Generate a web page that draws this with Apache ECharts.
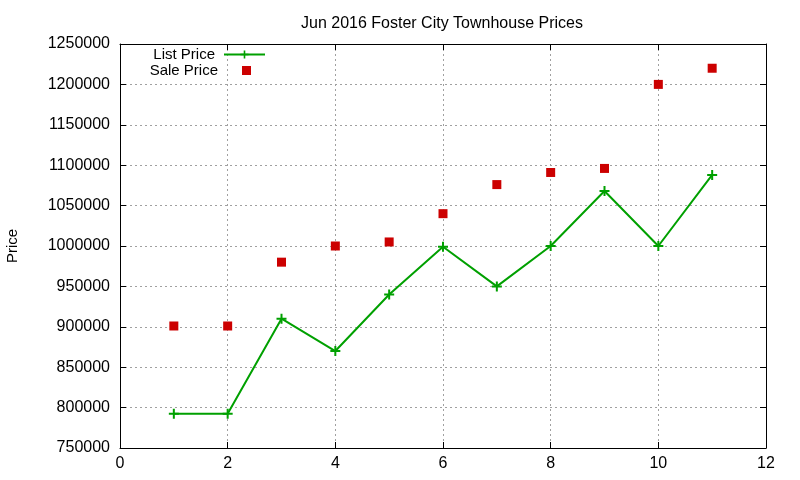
<!DOCTYPE html>
<html>
<head>
<meta charset="utf-8">
<script src="https://cdn.jsdelivr.net/npm/echarts@6/dist/echarts.min.js"></script>
<style>html,body{margin:0;padding:0;background:#fff}#c{width:800px;height:480px}</style>
</head>
<body>
<div id="c"></div>
<script>
var months = [1, 2, 3, 4, 5, 6, 7, 8, 9, 10, 11];
var listPrice = [792500, 792500, 910000, 870000, 940000, 999000, 950000, 1000000, 1068000, 1000000, 1088000];
var salePrice = [901000, 901000, 980000, 1000000, 1005000, 1040000, 1076000, 1091000, 1096000, 1200000, 1220000];
var titleText = 'Jun 2016 Foster City Townhouse Prices';
var yName = 'Price';

var FONT = 'Liberation Sans';
var GREEN = '#00a000';
var RED = '#cc0000';
var plus = 'path://M4,0h2v4h4v2h-4v4h-2v-4h-4v-2h4z';

function pairs(ys) { return months.map(function (m, i) { return [m, ys[i]]; }); }

var gridLine = { show: true, lineStyle: { color: '#a0a0a0', type: [2, 3], width: 1 } };
var axLine = { show: true, onZero: false, lineStyle: { color: '#000', width: 1 } };
var tick = { show: true, inside: true, length: 6, lineStyle: { color: '#000' } };

var chart = echarts.init(document.getElementById('c'), null, { renderer: 'canvas' });
chart.setOption({
  animation: false,
  backgroundColor: '#fff',
  textStyle: { fontFamily: FONT },
  title: {
    text: titleText, left: 437, top: 11, textAlign: 'center',
    textStyle: { fontFamily: FONT, fontSize: 16, fontWeight: 'normal', color: '#000' }
  },
  grid: { left: 120, right: 34, top: 44, bottom: 32, containLabel: false, outerBoundsMode: 'none' },
  legend: [
    {
      data: ['List Price'], right: 534, top: 47, align: 'right', orient: 'vertical',
      itemWidth: 41, itemHeight: 10, padding: 0,
      textStyle: { fontFamily: FONT, fontSize: 15, color: '#000', padding: [0, 4, 0, 0] }
    },
    {
      data: [{ name: 'Sale Price', icon: 'rect' }], right: 549, top: 63, align: 'right', orient: 'vertical',
      itemWidth: 9, itemHeight: 9, padding: 0,
      textStyle: { fontFamily: FONT, fontSize: 15, color: '#000', padding: [0, 19, 0, 0] }
    }
  ],
  xAxis: [
    {
      type: 'value', min: 0, max: 12, interval: 2, position: 'bottom',
      axisLine: axLine, axisTick: tick, splitLine: gridLine,
      axisLabel: { color: '#000', fontSize: 16, fontFamily: FONT, margin: 8 }
    },
    {
      type: 'value', min: 0, max: 12, interval: 2, position: 'top',
      axisLine: axLine, axisTick: tick, splitLine: { show: false }, axisLabel: { show: false }
    }
  ],
  yAxis: [
    {
      type: 'value', min: 750000, max: 1250000, interval: 50000, position: 'left',
      name: yName, nameLocation: 'middle', nameGap: 100, nameRotate: 90,
      nameTextStyle: { color: '#000', fontSize: 15, fontFamily: FONT },
      axisLine: axLine, axisTick: tick, splitLine: gridLine,
      axisLabel: { color: '#000', fontSize: 16, fontFamily: FONT, margin: 10,
        formatter: function (v) { return String(v); } }
    },
    {
      type: 'value', min: 750000, max: 1250000, interval: 50000, position: 'right',
      axisLine: axLine, axisTick: tick, splitLine: { show: false }, axisLabel: { show: false }
    }
  ],
  series: [
    {
      name: 'List Price', type: 'line', data: pairs(listPrice),
      xAxisIndex: 0, yAxisIndex: 0,
      symbol: plus, symbolSize: 10, showAllSymbol: true,
      lineStyle: { color: GREEN, width: 2 },
      itemStyle: { color: GREEN }
    },
    {
      name: 'Sale Price', type: 'scatter', data: pairs(salePrice),
      xAxisIndex: 0, yAxisIndex: 0,
      symbol: 'rect', symbolSize: 9,
      itemStyle: { color: RED, opacity: 1 }
    }
  ]
});
</script>
</body>
</html>
